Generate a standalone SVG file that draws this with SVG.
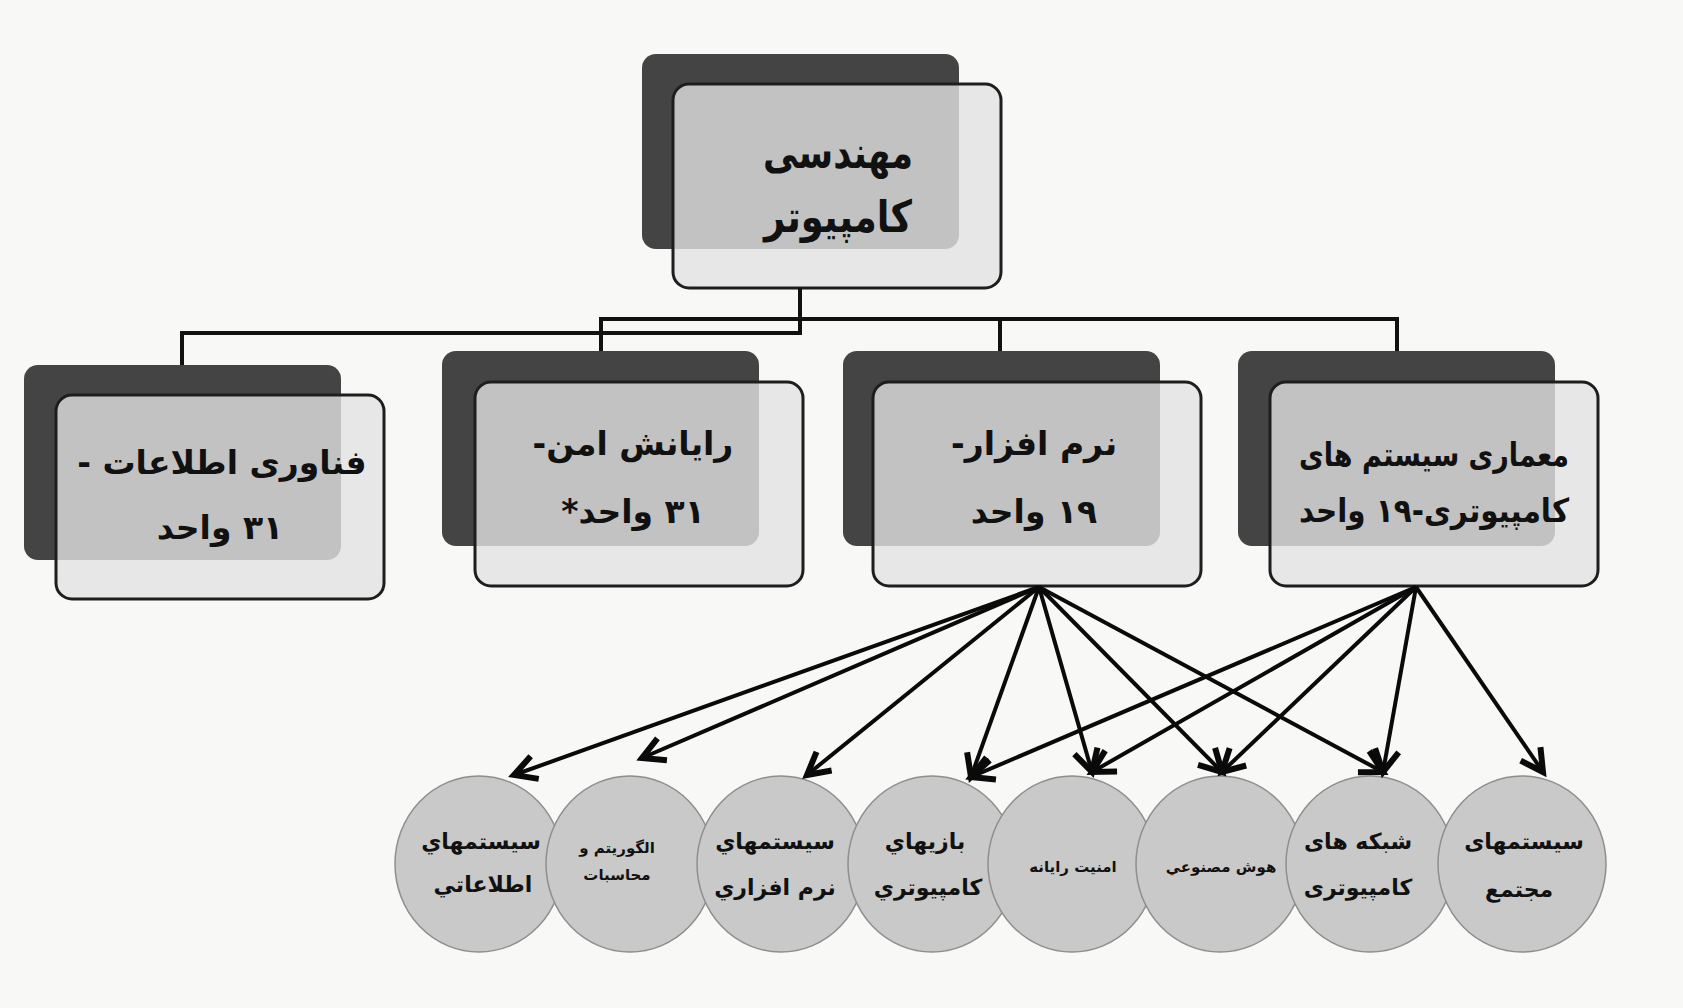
<svg xmlns="http://www.w3.org/2000/svg" width="1683" height="1008" viewBox="0 0 1683 1008">
<style>
.back{fill:#444444;}
.front{fill:#e2e2e2;fill-opacity:0.8;stroke:#1e1e1e;stroke-width:3;}
.bt{font-family:"DejaVu Sans",sans-serif;font-weight:bold;font-size:33px;fill:#111;text-anchor:middle;direction:rtl;dominant-baseline:middle;}
.tt{font-size:44px;}
.circ{fill:#c9c9c9;stroke:#8e8e8e;stroke-width:1.5;}
.ct{font-family:"DejaVu Sans",sans-serif;font-weight:bold;font-size:22px;fill:#111;text-anchor:middle;direction:rtl;dominant-baseline:middle;}
.cs{font-size:15px;}
.tree{fill:none;stroke:#111;stroke-width:4;}
.arr{fill:none;stroke:#0a0a0a;stroke-width:4;marker-end:url(#ah);}
</style>
<defs>
<marker id="ah" markerUnits="userSpaceOnUse" markerWidth="34" markerHeight="34" viewBox="-28 -17 34 34" refX="0" refY="0" orient="auto" overflow="visible">
<path d="M-22,-12 L0,0 L-22,12" fill="none" stroke="#0a0a0a" stroke-width="6" stroke-linejoin="miter"/>
</marker>
</defs>
<rect x="0" y="0" width="1683" height="1008" fill="#f8f8f7"/>

<g id="node-root">
<rect class="back" x="642" y="54" width="317" height="195" rx="14"/>
<rect class="front" x="673" y="84" width="328" height="204" rx="16"/>
<text class="bt tt" x="838" y="156" textLength="150" lengthAdjust="spacingAndGlyphs">مهندسی</text>
<text class="bt tt" x="838" y="220" textLength="148" lengthAdjust="spacingAndGlyphs">کامپیوتر</text>
</g>

<g id="node-it">
<rect class="back" x="24" y="365" width="317" height="195" rx="14"/>
<rect class="front" x="56" y="395" width="328" height="204" rx="16"/>
<text class="bt" x="222" y="464">فناوری اطلاعات -</text>
<text class="bt" x="220" y="529">۳۱ واحد</text>
</g>

<g id="node-secure">
<rect class="back" x="442" y="351" width="317" height="195" rx="14"/>
<rect class="front" x="475" y="382" width="328" height="204" rx="16"/>
<text class="bt" x="633" y="445">رایانش امن-</text>
<text class="bt" x="633" y="513">۳۱ واحد*</text>
</g>

<g id="node-software">
<rect class="back" x="843" y="351" width="317" height="195" rx="14"/>
<rect class="front" x="873" y="382" width="328" height="204" rx="16"/>
<text class="bt" x="1034" y="445">نرم افزار-</text>
<text class="bt" x="1034" y="513">۱۹ واحد</text>
</g>

<g id="node-arch">
<rect class="back" x="1238" y="351" width="317" height="195" rx="14"/>
<rect class="front" x="1270" y="382" width="328" height="204" rx="16"/>
<text class="bt" x="1434" y="456" textLength="270" lengthAdjust="spacingAndGlyphs">معماری سیستم های</text>
<text class="bt" x="1434" y="512" textLength="270" lengthAdjust="spacingAndGlyphs">کامپیوتری-۱۹ واحد</text>
</g>

<g id="c1">
<ellipse class="circ" cx="479" cy="864" rx="84" ry="88"/>
<text class="ct" x="481" y="843">سیستمهاي</text>
<text class="ct" x="483" y="886">اطلاعاتي</text>
</g>
<g id="c2">
<ellipse class="circ" cx="630" cy="864" rx="84" ry="88"/>
<text class="ct cs" x="617" y="848">الگوریتم و</text>
<text class="ct cs" x="617" y="875">محاسبات</text>
</g>
<g id="c3">
<ellipse class="circ" cx="781" cy="864" rx="84" ry="88"/>
<text class="ct" x="775" y="843">سیستمهاي</text>
<text class="ct" x="775" y="889">نرم افزاري</text>
</g>
<g id="c4">
<ellipse class="circ" cx="932" cy="864" rx="84" ry="88"/>
<text class="ct" x="925" y="843">بازیهاي</text>
<text class="ct" x="928" y="889">کامپیوتري</text>
</g>
<g id="c5">
<ellipse class="circ" cx="1072" cy="864" rx="84" ry="88"/>
<text class="ct cs" x="1073" y="867">امنیت رایانه</text>
</g>
<g id="c6">
<ellipse class="circ" cx="1220" cy="864" rx="84" ry="88"/>
<text class="ct cs" x="1221" y="867">هوش مصنوعي</text>
</g>
<g id="c7">
<ellipse class="circ" cx="1370" cy="864" rx="84" ry="88"/>
<text class="ct" x="1358" y="843">شبکه های</text>
<text class="ct" x="1358" y="889">کامپیوتری</text>
</g>
<g id="c8">
<ellipse class="circ" cx="1522" cy="864" rx="84" ry="88"/>
<text class="ct" x="1524" y="843">سیستمهای</text>
<text class="ct" x="1519" y="891">مجتمع</text>
</g>

<g id="connectors">
<path class="tree" d="M800,288 V333 H182 V365"/>
<path class="tree" d="M601,351 V319 H1397 V351"/>
<path class="tree" d="M1000,319 V351"/>
<line class="arr" x1="1039" y1="587" x2="514" y2="775"/>
<line class="arr" x1="1039" y1="587" x2="642" y2="758"/>
<line class="arr" x1="1039" y1="587" x2="807" y2="775"/>
<line class="arr" x1="1039" y1="587" x2="971" y2="777"/>
<line class="arr" x1="1039" y1="587" x2="1092" y2="772"/>
<line class="arr" x1="1039" y1="587" x2="1222" y2="772"/>
<line class="arr" x1="1039" y1="587" x2="1383" y2="772"/>
<line class="arr" x1="1416" y1="587" x2="971" y2="777"/>
<line class="arr" x1="1416" y1="587" x2="1092" y2="772"/>
<line class="arr" x1="1416" y1="587" x2="1222" y2="772"/>
<line class="arr" x1="1416" y1="587" x2="1383" y2="772"/>
<line class="arr" x1="1416" y1="587" x2="1543" y2="772"/>
</g>
</svg>
